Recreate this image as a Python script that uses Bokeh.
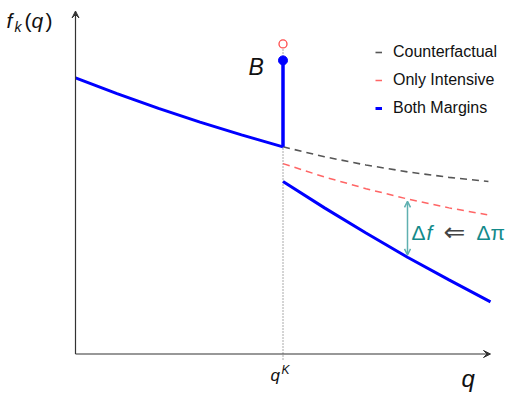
from bokeh.plotting import figure
from bokeh.models import Range1d, Arrow, VeeHead, OpenHead, Legend, LegendItem, Label
from bokeh.embed import file_html
from bokeh.resources import INLINE

# ---- data ----
q_left = [0, 1, 2, 3, 4, 5]
f_left = [8.05, 7.59, 7.16, 6.76, 6.39, 6.04]          # Both Margins, below q^K
q_both = [5, 6, 7, 8, 9, 10]
f_both = [5.03, 4.26, 3.53, 2.82, 2.16, 1.52]          # Both Margins, above q^K
q_cf = [5, 6, 7, 8, 9, 9.95]
f_cf = [6.04, 5.75, 5.51, 5.31, 5.15, 5.03]            # Counterfactual
q_int = [5, 6, 7, 8, 9, 9.92]
f_int = [5.55, 5.16, 4.82, 4.52, 4.26, 4.06]           # Only Intensive
q_K = 5
f_B = 8.56          # bunching mass top (filled dot)
f_open = 9.04       # open circle
q_delta = 8         # location of the Delta f arrow
axis_max = 10
series_names = ["Counterfactual", "Only Intensive", "Both Margins"]

# ---- pixel helpers for text placement ----
XS, YS = 41.5, 34.3
def X(px):
    return (px - 75) / XS
def Y(py):
    return (353.5 - py) / YS

p = figure(width=510, height=393, min_border=0, output_backend="svg",
           toolbar_location=None, x_axis_location=None, y_axis_location=None,
           x_range=Range1d(X(0), X(510)), y_range=Range1d(Y(393), Y(0)))
p.outline_line_color = None
p.xgrid.visible = False
p.ygrid.visible = False
p.background_fill_color = "white"
p.border_fill_color = "white"

axis_col = "#333333"
teal = "#138a8a"
teal_light = "#5fb0b0"
red = "#ff4a4a"
blue = "#0000ff"

# axes as arrows
p.add_layout(Arrow(end=VeeHead(size=7, fill_color=axis_col, line_color=axis_col),
                   x_start=0, y_start=0, x_end=axis_max, y_end=0,
                   line_color=axis_col, line_width=1.2))
p.add_layout(Arrow(end=VeeHead(size=7, fill_color=axis_col, line_color=axis_col),
                   x_start=0, y_start=0, x_end=0, y_end=axis_max,
                   line_color=axis_col, line_width=1.2))

# dotted vertical at q^K
p.segment(x0=[q_K], y0=[Y(359)], x1=[q_K], y1=[f_open],
          line_dash="1 2", line_color="#555555", line_width=1)

# curves
r_cf = p.line(q_cf, f_cf, line_color="#444444", line_width=1.6,
              line_dash="7 5", line_alpha=0.9)
r_int = p.line(q_int, f_int, line_color=red, line_width=1.5,
               line_dash="7 5", line_alpha=0.85)
r_both = p.line(q_both, f_both, line_color=blue, line_width=3)
p.line(q_left, f_left, line_color=blue, line_width=3)

# bunching spike
p.segment(x0=[q_K], y0=[f_left[-1]], x1=[q_K], y1=[f_B],
          line_color=blue, line_width=3.5)
p.scatter([q_K], [f_B], size=9, fill_color=blue, line_color=blue)
p.scatter([q_K], [f_open], size=8, fill_color="white", line_color=red,
          line_width=1.3)

# Delta f arrow
i_d = q_both.index(q_delta)
j_d = q_int.index(q_delta)
p.add_layout(Arrow(start=OpenHead(size=6, line_color=teal_light, line_width=1.5),
                   end=OpenHead(size=6, line_color=teal_light, line_width=1.5),
                   x_start=q_delta, y_start=f_int[j_d] - 0.07,
                   x_end=q_delta, y_end=f_both[i_d] + 0.07,
                   line_color=teal_light, line_width=1.5))

# legend
legend = Legend(items=[LegendItem(label=series_names[0], renderers=[r_cf]),
                       LegendItem(label=series_names[1], renderers=[r_int]),
                       LegendItem(label=series_names[2], renderers=[r_both])],
                location=(375, 275), glyph_width=7, glyph_height=20,
                label_height=20, label_standoff=11, spacing=8, padding=0,
                margin=0, border_line_color=None, background_fill_alpha=0,
                label_text_font="Liberation Sans", label_text_font_size="16px",
                label_text_color="#111111")
p.add_layout(legend)

# texts (py = intended baseline in pixels; small correction for rendering)
def lab(px, py, text, size, italic=False, color="#111111", font="Liberation Sans"):
    p.add_layout(Label(x=X(px), y=Y(py - 0.36 * size), text=text, text_font=font,
                       text_font_size=f"{size}px",
                       text_font_style="italic" if italic else "normal",
                       text_color=color, text_baseline="alphabetic",
                       text_align="left"))

lab(6, 28, "f", 21, italic=True)
lab(14, 32, "k", 14, italic=True)
lab(24, 28, "(", 21)
lab(31, 28, "q", 21, italic=True)
lab(45, 28, ")", 21)

lab(248, 75, "B", 23, italic=True)

lab(270, 381, "q", 17, italic=True)
lab(281, 374, "K", 12, italic=True)
lab(461, 387, "q", 24, italic=True)

lab(411, 240, "Δ", 21, color=teal)
lab(426, 240, "f", 21, italic=True, color=teal)
lab(443, 241, "⇐", 26, color="#444444", font="DejaVu Sans")
lab(476, 240, "Δπ", 21, color=teal)

open("out.html", "w").write(file_html(p, INLINE))
